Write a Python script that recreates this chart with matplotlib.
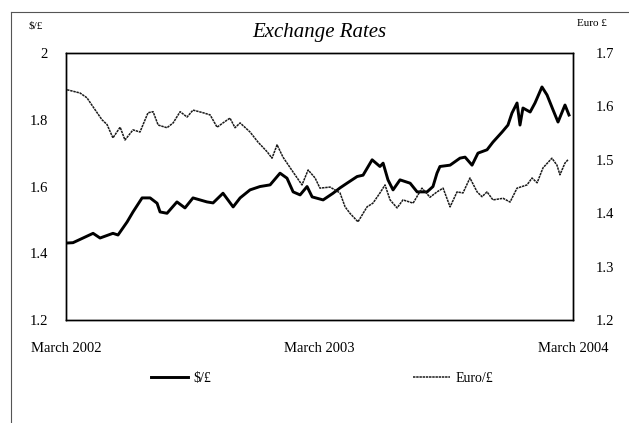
import matplotlib
matplotlib.use("Agg")
import matplotlib.pyplot as plt
from matplotlib.lines import Line2D

plt.rcParams["font.family"] = ["Liberation Serif", "DejaVu Serif"]

# months since March 2002
usd_months = [0.05, 0.33, 1.28, 1.61, 2.22, 2.46, 2.89, 3.17, 3.60, 3.98, 4.31, 4.45,
              4.78, 5.25, 5.63, 6.01, 6.67, 6.96, 7.43, 7.91, 8.24, 8.71, 9.18, 9.66,
              10.13, 10.46, 10.75, 11.08, 11.41, 11.65, 12.17, 12.64, 12.97, 13.30,
              13.78, 14.06, 14.49, 14.86, 15.01, 15.24, 15.48, 15.81, 16.29, 16.62,
              17.09, 17.37, 17.56, 17.70, 18.18, 18.65, 18.89, 19.22, 19.50, 19.93,
              20.21, 20.64, 20.92, 21.11, 21.35, 21.49, 21.63, 21.97, 22.20, 22.53,
              22.77, 23.05, 23.29, 23.62, 23.81]
usd_gbp = [1.431, 1.432, 1.46, 1.446, 1.46, 1.455, 1.494, 1.524, 1.566, 1.566, 1.55, 1.524,
           1.52, 1.554, 1.536, 1.566, 1.554, 1.551, 1.58, 1.539, 1.566, 1.59, 1.60, 1.605,
           1.64, 1.625, 1.584, 1.575, 1.60, 1.569, 1.56, 1.58, 1.596, 1.61,
           1.63, 1.634, 1.68, 1.66, 1.67, 1.62, 1.59, 1.62, 1.61, 1.584,
           1.584, 1.60, 1.64, 1.66, 1.664, 1.685, 1.688, 1.664, 1.70, 1.71,
           1.733, 1.763, 1.784, 1.82, 1.85, 1.784, 1.835, 1.823, 1.85, 1.898,
           1.874, 1.83, 1.793, 1.844, 1.814]

eur_months = [0.05, 0.66, 0.99, 1.28, 1.70, 1.94, 2.22, 2.56, 2.79, 3.17, 3.50, 3.88,
              4.12, 4.36, 4.78, 5.07, 5.40, 5.73, 6.01, 6.49, 6.82, 7.15, 7.43, 7.76,
              8.00, 8.24, 8.71, 9.09, 9.52, 9.75, 9.99, 10.27, 10.75, 11.17, 11.46,
              11.79, 12.02, 12.50, 12.97, 13.21, 13.44, 13.82, 14.25, 14.53, 14.86,
              15.10, 15.34, 15.67, 15.95, 16.43, 16.85, 17.23, 17.56, 17.85, 18.18,
              18.51, 18.79, 19.12, 19.46, 19.69, 19.93, 20.21, 20.69, 21.02, 21.35,
              21.82, 22.06, 22.30, 22.58, 23.00, 23.24, 23.38, 23.62, 23.76]
eur_gbp = [1.631, 1.625, 1.616, 1.599, 1.575, 1.566, 1.541, 1.561, 1.537, 1.556, 1.552, 1.588,
           1.59, 1.565, 1.56, 1.569, 1.59, 1.58, 1.593, 1.588, 1.584, 1.561, 1.569, 1.578,
           1.56, 1.569, 1.552, 1.533, 1.515, 1.503, 1.528, 1.505, 1.477, 1.453, 1.481,
           1.466, 1.447, 1.449, 1.438, 1.412, 1.40, 1.384, 1.412, 1.419, 1.438,
           1.453, 1.425, 1.41, 1.425, 1.419, 1.447, 1.43, 1.44, 1.447, 1.412,
           1.44, 1.438, 1.466, 1.44, 1.431, 1.44, 1.425, 1.428, 1.421, 1.447,
           1.453, 1.466, 1.457, 1.485, 1.503, 1.49, 1.472, 1.494, 1.50]

x_ticks = [0, 12, 24]
x_labels = ["March 2002", "March 2003", "March 2004"]
left_ticks = [1.2, 1.4, 1.6, 1.8, 2.0]
left_labels = ["1.2", "1.4", "1.6", "1.8", "2"]
right_ticks = [1.2, 1.3, 1.4, 1.5, 1.6, 1.7]

EUR_STYLE = dict(color="#1a1a1a", lw=1.1, linestyle=(0, (1.6, 0.5)))

fig = plt.figure(figsize=(6.29, 4.23), dpi=100, facecolor="white")
ax = fig.add_axes([0.105, 0.243, 0.806, 0.632])
ax2 = ax.twinx()

ax.plot(usd_months, usd_gbp, color="black", lw=2.1, solid_joinstyle="round")
ax2.plot(eur_months, eur_gbp, **EUR_STYLE)

ax.set_xlim(0, 24)
ax.set_ylim(1.2, 2.0)
ax2.set_ylim(1.2, 1.7)

ax.set_xticks(x_ticks)
ax.set_xticklabels(x_labels, fontsize=10.5)
ax.set_yticks(left_ticks)
ax.set_yticklabels(left_labels, fontsize=10.5)
ax2.set_yticks(right_ticks)
ax2.set_yticklabels([f"{v:.1f}" for v in right_ticks], fontsize=10.5)

ax.tick_params(axis="x", length=0, pad=16)
ax.tick_params(axis="y", length=0, pad=13)
ax2.tick_params(axis="y", length=0, pad=16)
for a in (ax, ax2):
    for s in a.spines.values():
        s.set_linewidth(1.0)
        s.set_color("black")

fig.text(0.507, 0.922, "Exchange Rates", ha="center", va="center",
         fontsize=15, style="italic")
fig.text(0.057, 0.938, "$/£", ha="center", va="center", fontsize=8)
fig.text(0.941, 0.945, "Euro £", ha="center", va="center", fontsize=8)

handles = [Line2D([], [], color="black", lw=2.1),
           Line2D([], [], **EUR_STYLE)]
fig.legend(handles, ["$/£", "Euro/£"], loc="center", bbox_to_anchor=(0.512, 0.105),
           ncol=2, frameon=False, fontsize=10, handlelength=2.7,
           handletextpad=0.4, columnspacing=14.5)

# scanned page frame
fig.add_artist(Line2D([0.017, 1.0], [0.972, 0.972], color="#555555", lw=0.8,
                      transform=fig.transFigure))
fig.add_artist(Line2D([0.017, 0.017], [0.0, 0.972], color="#555555", lw=0.8,
                      transform=fig.transFigure))

fig.savefig("out.png", dpi=100, facecolor="white")
